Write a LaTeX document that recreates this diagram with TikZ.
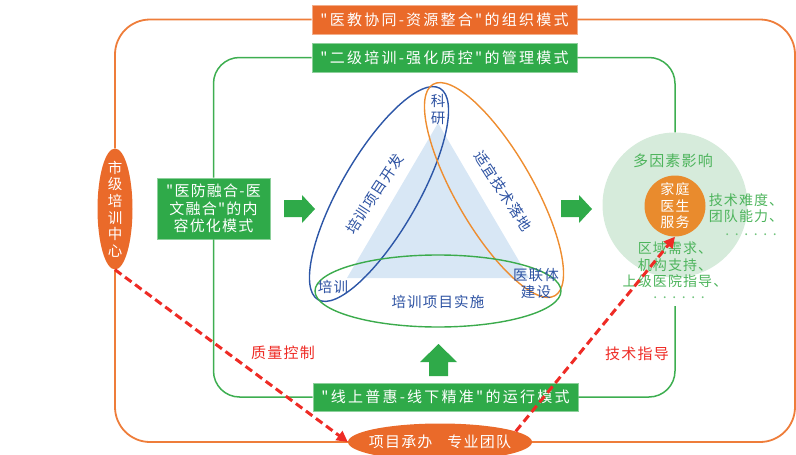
\documentclass[tikz,border=0pt]{standalone}
\usepackage{fontspec}
\setmainfont{Noto Sans CJK SC}
\newfontfamily\cjk[LetterSpace=8]{Noto Sans CJK SC}
\newfontfamily\cjkwide[LetterSpace=15]{Noto Sans CJK SC}
\newfontfamily\cjkdots[LetterSpace=40]{Noto Sans CJK SC}
\usetikzlibrary{shapes.geometric,arrows.meta}

\definecolor{orgOrange}{HTML}{EA6A2A}
\definecolor{lineOrange}{HTML}{EE7D3A}
\definecolor{mgmtGreen}{HTML}{2FAA49}
\definecolor{lineGreen}{HTML}{3DAE50}
\definecolor{factorFill}{HTML}{D6EBDB}
\definecolor{factorText}{HTML}{4DB45C}
\definecolor{serviceOrange}{HTML}{E98B2D}
\definecolor{triBlue}{HTML}{D8E7F5}
\definecolor{ringBlue}{HTML}{2C56A7}
\definecolor{ringOrange}{HTML}{EE8D30}
\definecolor{ringGreen}{HTML}{3BAB4C}
\definecolor{textBlue}{HTML}{2D52A2}
\definecolor{ctrlRed}{HTML}{EE2B25}

\begin{document}
\begin{tikzpicture}[x=1pt,y=-1pt,
  modelbox/.style={fill=#1,draw=#1!55!white,line width=0.6pt,text=white,
    font=\cjkwide\fontsize{15}{18}\selectfont,minimum width=265pt,minimum height=29pt,inner sep=0pt},
  contentbox/.style={fill=mgmtGreen,draw=mgmtGreen!55!white,line width=0.6pt,text=white,align=center,
    font=\cjk\fontsize{15}{17.5}\selectfont,minimum width=113pt,minimum height=61pt,inner sep=0pt},
  ringline/.style={draw=#1,line width=1.4pt,ellipse,inner sep=0pt},
  ringtext/.style={text=textBlue,font=\cjk\fontsize{14.5}{17}\selectfont,inner sep=0pt},
  factortext/.style={text=factorText,font=\cjk\fontsize{14}{16.5}\selectfont,inner sep=0pt},
  dotstext/.style={text=factorText!80!white,font=\cjkdots\fontsize{14}{16}\selectfont,inner sep=0pt},
  ctrltext/.style={text=ctrlRed,font=\cjk\fontsize{15}{18}\selectfont,inner sep=0pt},
  orangeframe/.style={draw=lineOrange,line width=1.8pt,rounded corners=35pt},
  greenframe/.style={draw=lineGreen,line width=1.5pt,rounded corners=26pt},
  ctrlarrow/.style={draw=ctrlRed,line width=3pt,dash pattern=on 8pt off 4.5pt,
    -{Triangle[length=11pt,width=11pt]}}]
\useasboundingbox (0,0) rectangle (796,455);

% Model boxes
\node[modelbox=orgOrange] (org) at (444.5,19.5) {"医教协同-资源整合"的组织模式};
\node[modelbox=mgmtGreen] (mgmt) at (444.5,57.5) {"二级培训-强化质控"的管理模式};
\node[modelbox=mgmtGreen,minimum height=28pt] (run) at (445.5,397) {"线上普惠-线下精准"的运行模式};
\node[contentbox] (content) at (213.5,208.5) {"医防融合-医\\文融合"的内\\容优化模式};

% Ends of the orange frame
\node[ellipse,fill=orgOrange,text=white,align=center,inner xsep=0pt,inner ysep=-20pt,
  minimum width=35pt,minimum height=121pt,font=\cjk\fontsize{14.5}{16.6}\selectfont]
  (center) at (115,209) {市\\级\\培\\训\\中\\心};
\node[ellipse,fill=orgOrange,text=white,inner xsep=-10pt,inner ysep=-5pt,
  minimum width=184pt,minimum height=37pt,font=\cjk\fontsize{15}{18}\selectfont]
  (proj) at (440,442) {项目承办\quad 专业团队};

% Block arrows
\foreach \ax in {284,561}
  \fill[mgmtGreen] (\ax,200) -- (\ax+18,200) -- (\ax+18,195) -- (\ax+31,209)
    -- (\ax+18,223) -- (\ax+18,217) -- (\ax,217) -- cycle;
\fill[mgmtGreen] (429,376) -- (429,362) -- (420,362) -- (438.5,344) -- (457,362)
  -- (448,362) -- (448,376) -- cycle;

% Triangle and rings
\fill[triBlue] (438,123) -- (347,278) -- (529,278) -- cycle;
\node[ringline=ringBlue,minimum width=244pt,minimum height=77pt,rotate=60] (ringDev) at (379,194) {};
\node[ringline=ringOrange,minimum width=244pt,minimum height=77pt,rotate=-60] (ringApply) at (494,190) {};
\node[ringline=ringGreen,minimum width=246pt,minimum height=72pt] (ringImpl) at (438,291) {};

\node[ringtext,rotate=57] (tDev) at (375,194) {培训项目开发};
\node[ringtext,rotate=-57] (tApply) at (503,191) {适宜技术落地};
\node[ringtext,align=center] (tSci) at (438,110) {科\\研};
\node[ringtext] (tTrain) at (333,287) {培训};
\node[ringtext,align=center] (tAlly) at (536,284) {医联体\\建设};
\node[ringtext] (tImpl) at (438,302) {培训项目实施};

% Factors
\node[circle,fill=factorFill,minimum size=145pt,inner sep=0pt] (factor) at (675,205) {};
\node[factortext,font=\cjk\fontsize{15}{17}\selectfont] (tMulti) at (673,161) {多因素影响};
\node[circle,fill=serviceOrange,text=white,align=center,minimum size=61pt,inner sep=0pt,
  font=\cjk\fontsize{14}{16.5}\selectfont] (service) at (675,206) {家庭\\医生\\服务};
\node[factortext,align=center] (tHard) at (746,208) {技术难度、\\团队能力、};
\node[dotstext] (dotsHigh) at (751,235) {......};
\node[factortext,align=center] (tNeed) at (675,265) {区域需求、\\机构支持、\\上级医院指导、};
\node[dotstext] (dotsLow) at (679,298) {......};
\coordinate (gapLow) at (675,306);
\coordinate (cornerR) at (795,19.5);

% Frames
\draw[orangeframe] (org.west) -| (center.north);
\draw[orangeframe] (center.south) |- (proj.west);
\draw[orangeframe] (proj.east) -| (cornerR) -- (org.east);
\draw[greenframe] (mgmt.west) -| (content.north);
\draw[greenframe] (content.south) |- (run.west);
\draw[greenframe] (mgmt.east) -| (factor.north);
\draw[greenframe] (run.east) -| (gapLow);

% Control and guidance
\draw[ctrlarrow] (center.south) -- (proj.west);
\draw[ctrlarrow] (proj.8) -- (service.south);
\node[ctrltext] (lblQC) at (283,353) {质量控制};
\node[ctrltext] (lblTech) at (637,354) {技术指导};

\end{tikzpicture}
\end{document}
